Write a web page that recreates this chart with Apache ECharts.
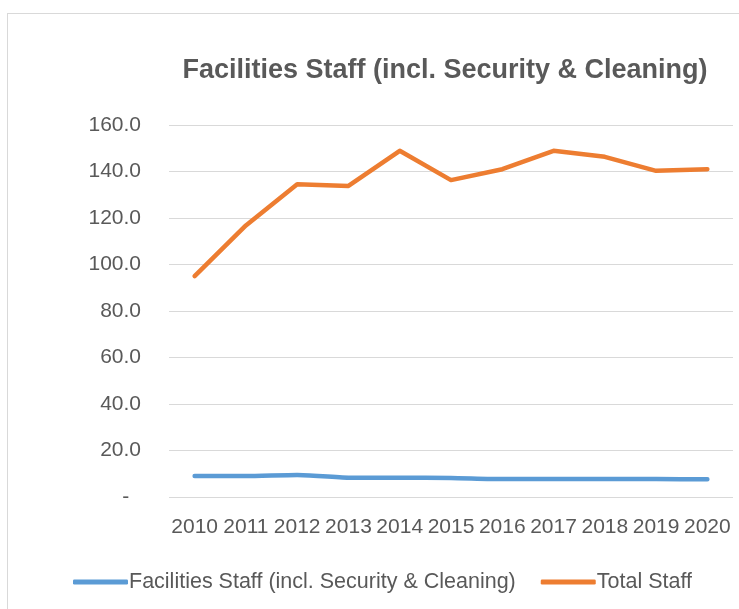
<!DOCTYPE html>
<html>
<head>
<meta charset="utf-8">
<script src="https://cdn.jsdelivr.net/npm/echarts@6/dist/echarts.min.js"></script>
<style>
  html, body { margin: 0; padding: 0; background: #fff; }
  #chart { width: 739px; height: 609px; }
</style>
</head>
<body>
<div id="chart"></div>
<script>
const years = ["2010", "2011", "2012", "2013", "2014", "2015", "2016", "2017", "2018", "2019", "2020"];
const facilitiesStaff = [9.0, 9.0, 9.5, 8.3, 8.3, 8.2, 7.7, 7.7, 7.7, 7.7, 7.6];
const totalStaff = [95.0, 116.8, 134.5, 133.8, 148.9, 136.3, 141.0, 148.9, 146.3, 140.3, 141.0];
const seriesNames = ["Facilities Staff (incl. Security & Cleaning)", "Total Staff"];

const FONT = "'Liberation Sans', Arial, sans-serif";
const TEXT = "#595959";
const GRID = "#d9d9d9";

const chart = echarts.init(document.getElementById("chart"));

chart.setOption({
  animation: false,
  title: {
    text: "Facilities Staff (incl. Security & Cleaning)",
    left: 440,
    top: 52,
    textAlign: "center",
    textStyle: { fontFamily: FONT, fontSize: 27, fontWeight: "bold", color: TEXT }
  },
  legend: {
    data: seriesNames,
    left: 68,
    top: 566,
    itemWidth: 55,
    itemHeight: 5,
    itemGap: 25,
    icon: "roundRect",
    textStyle: { fontFamily: FONT, fontSize: 21.5, color: TEXT, padding: [0, 0, 0, -4] }
  },
  grid: { left: 169, right: 6, top: 125, bottom: 112, containLabel: false },
  xAxis: {
    type: "category",
    data: years,
    boundaryGap: true,
    axisLine: { show: false },
    axisTick: { show: false },
    axisLabel: { fontFamily: FONT, fontSize: 21, color: TEXT, margin: 20, interval: 0 }
  },
  yAxis: {
    type: "value",
    min: 0,
    max: 160,
    interval: 20,
    axisLine: { show: false },
    axisTick: { show: false },
    axisLabel: {
      fontFamily: FONT, fontSize: 21, color: TEXT, margin: 28,
      formatter: (v) => (v === 0 ? "-  " : v.toFixed(1))
    },
    splitLine: { lineStyle: { color: GRID, width: 1 } }
  },
  graphic: [
    { type: "line", shape: { x1: 7.5, y1: 13, x2: 7.5, y2: 609 }, style: { stroke: GRID, lineWidth: 1 } },
    { type: "line", shape: { x1: 7, y1: 13.5, x2: 739, y2: 13.5 }, style: { stroke: GRID, lineWidth: 1 } }
  ],
  series: [
    {
      name: seriesNames[0],
      type: "line",
      data: facilitiesStaff,
      showSymbol: false,
      smooth: 0.2,
      lineStyle: { width: 4.5, color: "#5B9BD5", cap: "round" },
      itemStyle: { color: "#5B9BD5" }
    },
    {
      name: seriesNames[1],
      type: "line",
      data: totalStaff,
      showSymbol: false,
      lineStyle: { width: 4.5, color: "#ED7D31", cap: "round", join: "round" },
      itemStyle: { color: "#ED7D31" }
    }
  ]
});
</script>
</body>
</html>
